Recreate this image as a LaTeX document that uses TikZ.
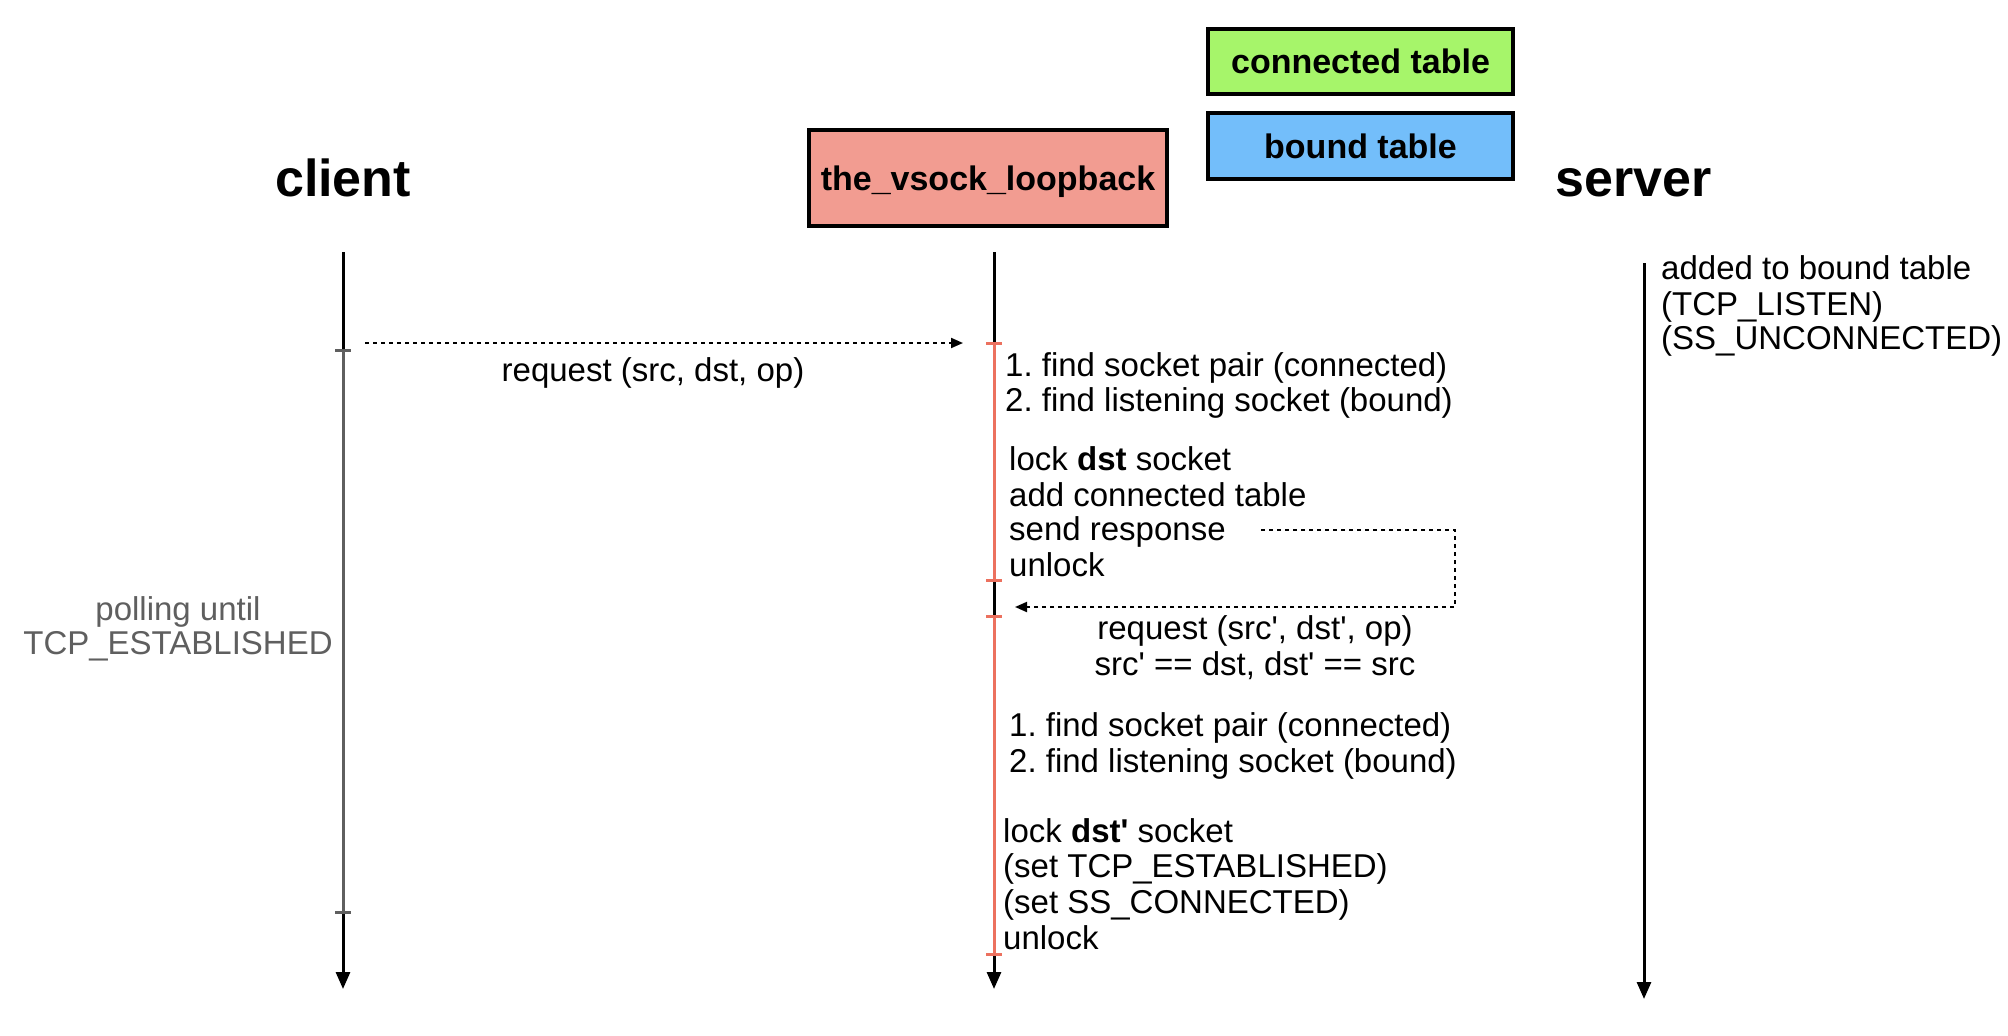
\documentclass[tikz,border=0pt]{standalone}
\usepackage{fontspec}
\setmainfont{Liberation Sans}
\newfontfamily\hv{Liberation Sans}
\usetikzlibrary{arrows.meta}
\definecolor{cgreen}{RGB}{166,245,106}
\definecolor{cblue}{RGB}{115,190,250}
\definecolor{csalmon}{RGB}{242,156,145}
\definecolor{cred}{RGB}{236,113,95}
\definecolor{cgray}{RGB}{95,95,95}
\frenchspacing
\begin{document}
\begin{tikzpicture}[x=1pt,y=-1pt,
  body/.style={font=\hv\fontsize{33}{35}\selectfont, inner sep=0pt, anchor=base west},
  bodyc/.style={body, anchor=base},
  title/.style={font=\hv\fontsize{52}{60}\selectfont\bfseries, inner sep=0pt, anchor=base},
  tbox/.style={draw=black, line width=4pt, font=\hv\fontsize{34}{40}\selectfont\bfseries, inner sep=0pt},
  life/.style={line width=3pt},
  lifearrow/.style={line width=3pt, -{Triangle[width=14pt,length=17pt]}},
  tickmark/.style={line width=3pt},
  msg/.style={line width=2pt, dash pattern=on 4pt off 4pt, -{Triangle[width=10pt,length=12pt]}},
]
\useasboundingbox (0,0) rectangle (2008,1036);

% headers
\node[title] (client) at (343,196) {client};
\node[title] (server) at (1634,196) {server};
\node[tbox, fill=cgreen, minimum width=305pt, minimum height=65pt] (conn) at (1360.5,61.5) {connected table};
\node[tbox, fill=cblue, minimum width=305pt, minimum height=66pt] (bound) at (1360.5,146) {bound table};
\node[tbox, fill=csalmon, minimum width=358pt, minimum height=96pt, text depth=0pt] (vsock) at (988,178) {the\_vsock\_loopback};

% client lifeline
\coordinate (cTop) at (343,252);
\coordinate (cT1) at (343,350);
\coordinate (cT2) at (343,912);
\coordinate (cEnd) at (343,989);
\draw[life] (cTop) -- (cT1);
\draw[life, cgray] (cT1) -- (cT2);
\draw[lifearrow] (cT2) -- (cEnd);
\draw[tickmark, cgray] ([xshift=-8pt]cT1) -- ([xshift=8pt]cT1);
\draw[tickmark, cgray] ([xshift=-8pt]cT2) -- ([xshift=8pt]cT2);

% vsock lifeline
\coordinate (vTop) at (994,252);
\coordinate (v1) at (994,343);
\coordinate (v2) at (994,580);
\coordinate (v3) at (994,616);
\coordinate (v4) at (994,954);
\coordinate (vEnd) at (994,989);
\draw[life] (vTop) -- (v1);
\draw[life, cred] (v1) -- (v2);
\draw[life] (v2) -- (v3);
\draw[life, cred] (v3) -- (v4);
\draw[lifearrow] (v4) -- (vEnd);
\foreach \p in {v1,v2,v3,v4}
  \draw[tickmark, cred] ([xshift=-8pt]\p) -- ([xshift=8pt]\p);

% server lifeline
\coordinate (sTop) at (1644,263);
\coordinate (sEnd) at (1644,999);
\draw[lifearrow] (sTop) -- (sEnd);

% server notes
\node[body] (s1) at (1661,279) {added to bound table};
\node[body] (s2) at (1661,315) {(TCP\_LISTEN)};
\node[body] (s3) at (1661,349) {(SS\_UNCONNECTED)};

% client notes
\node[bodyc, text=cgray] (p1) at (178,620) {polling until};
\node[bodyc, text=cgray] (p2) at (178,654) {TCP\_ESTABLISHED};

% request 1
\coordinate (m1s) at (365,343);
\coordinate (m1e) at (963,343);
\draw[msg] (m1s) -- (m1e);
\node[bodyc] (req1) at (653,381) {request (src, dst, op)};

% vsock notes
\node[body] (a1) at (1005,376) {1. find socket pair (connected)};
\node[body] (a2) at (1005,411) {2. find listening socket (bound)};

\node[body] (b1) at (1009,470) {lock \textbf{dst} socket};
\node[body] (b2) at (1009,506) {add connected table};
\node[body] (b3) at (1009,540) {send response};
\node[body] (b4) at (1009,576) {unlock};

% response loop
\coordinate (r0) at (1261,530);
\coordinate (r1) at (1455,530);
\coordinate (r2) at (1455,607);
\coordinate (r3) at (1015,607);
\draw[msg] (r0) -- (r1) -- (r2) -- (r3);

\node[bodyc] (req2) at (1255,639) {request (src', dst', op)};
\node[bodyc] (req2b) at (1255,675) {src' == dst, dst' == src};

\node[body] (c1) at (1009,736) {1. find socket pair (connected)};
\node[body] (c2) at (1009,772) {2. find listening socket (bound)};

\node[body] (d1) at (1003,842) {lock \textbf{dst'} socket};
\node[body] (d2) at (1003,877) {(set TCP\_ESTABLISHED)};
\node[body] (d3) at (1003,913) {(set SS\_CONNECTED)};
\node[body] (d4) at (1003,949) {unlock};
\end{tikzpicture}
\end{document}
